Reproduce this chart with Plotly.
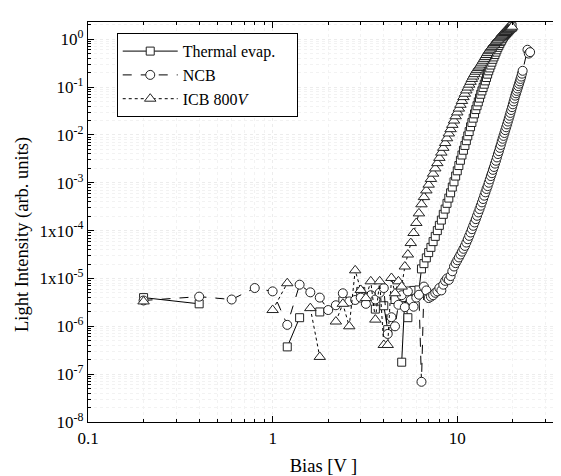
import plotly.graph_objects as go

# ---- data: bias (V) and log10(light intensity) ----
thermal_bias = [0.2, 0.4, 0.6, 1.2, 1.4, 1.6, 1.8, 2.0, 2.4, 2.6, 3.0, 3.2, 3.6, 3.8,
                4.0, 4.2, 4.4, 4.6, 4.8, 5.0, 5.2, 5.4, 5.6, 5.8, 6.0, 6.2,
                6.4, 6.6, 6.8, 7.0, 7.2, 7.4, 7.6, 7.8, 8.0, 8.2, 8.4, 8.6, 8.8, 9.0,
                9.2, 9.4, 9.6, 9.8, 10.0, 10.2, 10.4, 10.6, 10.8, 11.0, 11.2, 11.4, 11.6,
                11.8, 12.0, 12.2, 12.4, 12.6, 12.8, 13.0, 13.2, 13.4, 13.6, 13.8, 14.0,
                14.2, 14.4, 14.6, 14.8, 15.0, 15.2, 15.4, 15.6, 15.8, 16.0, 16.2, 16.4,
                16.6, 16.8, 17.0, 17.2, 17.4, 17.6, 17.8, 18.0, 18.2, 18.4, 18.6, 18.8,
                19.0, 19.2, 19.4, 19.6, 19.8]
thermal_log = [-5.40, -5.53, None, -6.43, -5.82, None, -5.70, None, -5.47, None, -5.27, None, -5.64, None,
               -5.57, -6.07, None, -5.44, None, -6.75, -5.40, -5.82, None, -5.25, None, -5.24,
               -4.80, -4.69, -4.57, -4.46, -4.35, -4.23, -4.12, -4.00, -3.89, -3.78, -3.66, -3.55, -3.43, -3.32,
               -3.21, -3.09, -2.98, -2.86, -2.75, -2.64, -2.53, -2.42, -2.32, -2.22, -2.12, -2.02, -1.93,
               -1.83, -1.74, -1.65, -1.56, -1.47, -1.39, -1.31, -1.23, -1.15, -1.08, -1.01, -0.94,
               -0.87, -0.80, -0.73, -0.66, -0.60, -0.54, -0.48, -0.42, -0.37, -0.32, -0.27, -0.22,
               -0.17, -0.13, -0.09, -0.05, -0.02, 0.02, 0.05, 0.08, 0.10, 0.12, 0.14, 0.16,
               0.18, 0.20, 0.22, 0.24, 0.26]

ncb_bias = [0.2, 0.4, 0.6, 0.8, 1.0, 1.2, 1.4, 1.6, 1.8, 2.0, 2.2, 2.4, 2.6, 2.8, 3.0,
            3.2, 3.4, 3.6, 3.8, 4.0, 4.2, 4.4, 4.6, 4.8, 5.0, 5.2, 5.4, 5.6, 5.8, 6.0,
            6.2, 6.4, 6.6, 6.8, 7.0, 7.2, 7.4, 7.6, 7.8, 8.0, 8.2, 8.4, 8.6, 8.8, 9.0,
            9.2, 9.4, 9.6, 9.8, 10.0, 10.2, 10.4, 10.6, 10.8, 11.0, 11.2, 11.4, 11.6, 11.8,
            12.0, 12.2, 12.4, 12.6, 12.8, 13.0, 13.2, 13.4, 13.6, 13.8, 14.0, 14.2, 14.4,
            14.6, 14.8, 15.0, 15.2, 15.4, 15.6, 15.8, 16.0, 16.2, 16.4, 16.6, 16.8, 17.0,
            17.2, 17.4, 17.6, 17.8, 18.0, 18.2, 18.4, 18.6, 18.8, 19.0, 19.2, 19.4, 19.6,
            19.8, 20.0, 20.2, 20.4, 20.6, 20.8, 21.0, 21.2, 21.4, 21.6, 21.8, 22.0, 22.2,
            22.4, 22.6, 24.0, 24.4, 24.8]
ncb_log = [-5.46, -5.38, -5.44, -5.20, -5.27, -5.97, -5.13, -5.29, -5.40, -5.66, -5.56, -5.31, -5.48, -5.45, -5.40,
           -5.53, -5.35, -5.44, -5.30, -5.20, -6.16, -5.81, -6.00, -5.55, -5.35, -5.60, -5.27, -5.45, -5.59, -5.40,
           -5.34, -7.16, -5.17, -5.25, -5.41, -5.38, -5.35, -5.30, -5.27, -5.20, -5.25, -5.13, -5.05, -5.00, -5.03,
           -4.95, -4.85, -4.75, -4.68, -4.62, -4.56, -4.50, -4.44, -4.38, -4.32, -4.25, -4.18, -4.11, -4.04,
           -3.97, -3.90, -3.83, -3.76, -3.69, -3.62, -3.55, -3.48, -3.41, -3.34, -3.27, -3.20, -3.13,
           -3.07, -3.00, -2.93, -2.86, -2.80, -2.73, -2.67, -2.60, -2.54, -2.47, -2.40, -2.34, -2.27,
           -2.21, -2.14, -2.08, -2.02, -1.96, -1.90, -1.84, -1.78, -1.72, -1.66, -1.60, -1.54, -1.48,
           -1.42, -1.36, -1.30, -1.24, -1.18, -1.13, -1.08, -1.03, -0.98, -0.93, -0.88, -0.83, -0.78,
           -0.72, -0.66, -0.22, -0.30, -0.27]

icb_bias = [0.2, 0.4, 1.0, 1.2, 1.4, 1.6, 1.8, 2.0, 2.2, 2.4, 2.6, 2.8, 3.0, 3.2, 3.4,
            3.6, 3.8, 4.0, 4.2, 4.4, 4.6, 4.8, 5.0, 5.2, 5.4, 5.6, 5.8, 6.0, 6.2, 6.4,
            6.6, 6.8, 7.0, 7.2, 7.4, 7.6, 7.8, 8.0, 8.2, 8.4, 8.6, 8.8, 9.0, 9.2, 9.4,
            9.6, 9.8, 10.0, 10.2, 10.4, 10.6, 10.8, 11.0, 11.2, 11.4, 11.6, 11.8, 12.0,
            12.2, 12.4, 12.6, 12.8, 13.0, 13.2, 13.4, 13.6, 13.8, 14.0, 14.2, 14.4, 14.6,
            14.8, 15.0, 15.2, 15.4, 15.6, 15.8, 16.0, 16.2, 16.4, 16.6, 16.8, 17.0, 17.2,
            17.4, 17.6, 17.8, 18.0, 18.2, 18.4, 18.6, 18.8, 19.0, 19.2, 19.4, 19.6, 19.8]
icb_log = [-5.48, None, -5.66, -5.10, None, -5.62, -6.64, None, -5.90, -5.53, -6.00, -4.83, -5.24, -5.41, -5.06,
           -5.86, -5.06, -6.39, -6.39, -4.99, -5.31, -5.06, -5.17, -4.75, -4.50, -4.26, -4.05, -3.84, -3.64, -3.45,
           -3.30, -3.16, -3.04, -2.92, -2.81, -2.70, -2.59, -2.48, -2.37, -2.27, -2.17, -2.07, -1.97, -1.88, -1.79,
           -1.70, -1.61, -1.53, -1.45, -1.37, -1.29, -1.21, -1.14, -1.07, -1.01, -0.95, -0.89, -0.83,
           -0.78, -0.73, -0.68, -0.64, -0.60, -0.57, -0.53, -0.49, -0.45, -0.41, -0.37, -0.33, -0.29,
           -0.25, -0.22, -0.19, -0.16, -0.13, -0.11, -0.08, -0.06, -0.03, -0.01, 0.02, 0.04, 0.06,
           0.08, 0.10, 0.12, 0.13, 0.15, 0.16, 0.18, 0.19, 0.20, 0.21, 0.22, 0.23, 0.26]

series_names = ["Thermal evap.&nbsp;&nbsp;&nbsp;&nbsp;", "NCB", "ICB 800<i>V</i>"]

y_tickvals = [1e-8, 1e-7, 1e-6, 1e-5, 1e-4, 1e-3, 1e-2, 1e-1, 1e0]
y_ticktext = ["10<sup>-8</sup>", "10<sup>-7</sup>", "10<sup>-6</sup>", "1x10<sup>-5</sup>",
              "1x10<sup>-4</sup>", "10<sup>-3</sup>", "10<sup>-2</sup>", "10<sup>-1</sup>", "10<sup>0</sup>"]
x_tickvals = [0.1, 1, 10]
x_ticktext = ["0.1", "1", "10"]
x_title = "Bias [V ]"
y_title = "Light Intensity (arb. units)"


def to_lin(vals):
    return [None if v is None else 10 ** v for v in vals]


FONT = "Liberation Serif"
fig = go.Figure()

styles = [
    (thermal_bias, thermal_log, "square", 8, "solid"),
    (ncb_bias, ncb_log, "circle", 9, "dash"),
    (icb_bias, icb_log, "triangle-up", 10, "dot"),
]
for name, (xs, ys, sym, sz, dash) in zip(series_names, styles):
    fig.add_trace(go.Scatter(
        x=xs, y=to_lin(ys), name=name, mode="lines+markers",
        connectgaps=False,
        line=dict(color="black", width=1, dash=dash),
        marker=dict(symbol=sym, size=sz, color="white",
                    line=dict(color="#222222", width=1)),
    ))

minor_x = [0.2, 0.3, 0.4, 0.5, 0.6, 0.7, 0.8, 0.9, 2, 3, 4, 5, 6, 7, 8, 9, 20, 30]
minor_y = []
for e in range(-8, 1):
    for m in range(2, 10):
        minor_y.append(m * 10 ** e)

# the page adds an 8px body margin, so the figure is sized to fit after it
fig.update_layout(
    width=553, height=468,
    margin=dict(l=80, r=2, t=14, b=54),
    paper_bgcolor="white", plot_bgcolor="white",
    font=dict(family=FONT, size=17, color="black"),
    showlegend=True,
    legend=dict(
        x=0.061, y=0.972, xanchor="left", yanchor="top",
        bgcolor="white", bordercolor="black", borderwidth=1,
        font=dict(family=FONT, size=16, color="black"),
        itemwidth=55, tracegroupgap=0,
    ),
    annotations=[dict(
        text=y_title, textangle=-90, xref="paper", yref="paper",
        x=-0.140, y=0.4675, xanchor="center", yanchor="middle",
        showarrow=False, font=dict(family=FONT, size=18.5, color="black"),
    )],
)
fig.update_xaxes(
    type="log", range=[-1, 1.551],
    tickmode="array", tickvals=x_tickvals, ticktext=x_ticktext,
    ticks="inside", ticklen=6, tickwidth=1, tickcolor="black",
    showline=True, linecolor="black", linewidth=1.2, mirror="allticks",
    showgrid=True, gridcolor="#ececec", griddash="dot", gridwidth=1,
    zeroline=False,
    minor=dict(tickvals=minor_x, ticks="inside", ticklen=3, tickcolor="black",
               showgrid=True, gridcolor="#f2f2f2", griddash="dot"),
    title=dict(text=x_title, font=dict(family=FONT, size=18.5), standoff=13),
    tickfont=dict(family=FONT, size=17),
)
fig.update_yaxes(
    type="log", range=[-8, 0.36],
    tickmode="array", tickvals=y_tickvals, ticktext=y_ticktext,
    ticks="inside", ticklen=6, tickwidth=1, tickcolor="black",
    showline=True, linecolor="black", linewidth=1.2, mirror="allticks",
    showgrid=True, gridcolor="#ececec", griddash="dot", gridwidth=1,
    zeroline=False,
    minor=dict(tickvals=minor_y, ticks="inside", ticklen=3, tickcolor="black",
               showgrid=True, gridcolor="#f2f2f2", griddash="dot"),
    tickfont=dict(family=FONT, size=17),
)

fig.write_html("out.html")
